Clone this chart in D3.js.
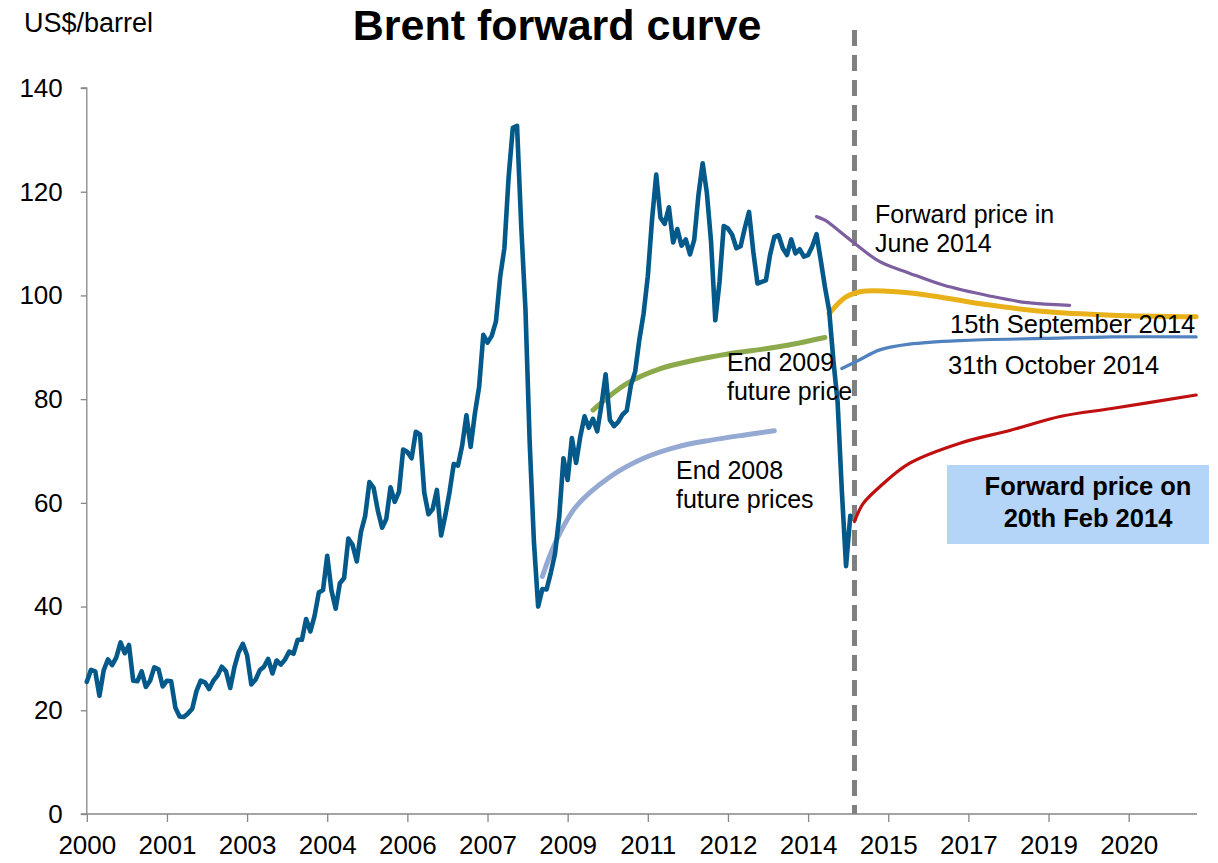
<!DOCTYPE html>
<html>
<head>
<meta charset="utf-8">
<script src="https://cdn.jsdelivr.net/npm/d3@7"></script>
<style>
  html, body { margin: 0; padding: 0; background: #fff; }
  svg { display: block; font-family: "Liberation Sans", Arial, sans-serif; }
</style>
</head>
<body>
<svg id="chart" width="1218" height="863"></svg>
<script>
// ---------------- DATA ----------------
const brentStart = "2000-01";
// Monthly Brent price, US$/barrel, Jan 2000 .. Feb 2015
const brentPrices = [
  25.5, 27.8, 27.5, 22.8, 27.7, 29.8, 28.7, 30.2, 33.1, 31.0, 32.6, 25.7,
  25.6, 27.5, 24.5, 25.7, 28.3, 27.9, 24.6, 25.7, 25.6, 20.5, 18.8, 18.7,
  19.4, 20.3, 23.7, 25.7, 25.4, 24.1, 25.7, 26.7, 28.4, 27.5, 24.3, 28.3,
  31.2, 32.8, 30.6, 25.0, 25.9, 27.7, 28.4, 29.9, 27.1, 29.6, 28.8, 29.8,
  31.3, 30.9, 33.6, 33.6, 37.6, 35.2, 38.2, 42.7, 43.2, 49.8, 43.1, 39.6,
  44.5, 45.5, 53.1, 51.9, 48.7, 54.4, 57.5, 64.0, 62.9, 58.5, 55.2, 56.9,
  63.0, 60.2, 62.1, 70.3, 69.8, 68.6, 73.7, 73.2, 62.0, 57.8, 58.8, 62.5,
  53.7, 57.6, 62.1, 67.5, 67.2, 71.1, 76.9, 70.8, 77.2, 82.3, 92.4, 90.9,
  92.2, 95.0, 103.6, 109.1, 122.8, 132.3, 132.7, 113.2, 97.2, 71.6, 52.5, 40.0,
  43.4, 43.3, 46.5, 50.2, 57.3, 68.6, 64.4, 72.5, 67.7, 72.8, 76.7, 74.5,
  76.2, 73.8, 78.8, 84.8, 76.0, 74.8, 75.6, 77.0, 77.8, 82.7, 85.3, 91.5,
  96.5, 103.7, 114.6, 123.3, 115.0, 113.8, 117.0, 110.2, 112.8, 109.6, 110.8, 107.9,
  110.7, 119.3, 125.5, 119.8, 110.3, 95.2, 102.6, 113.4, 112.9, 111.7, 109.1, 109.5,
  113.0, 116.1, 108.5, 102.3, 102.6, 102.9, 107.9, 111.3, 111.6, 109.1, 107.8, 110.8,
  108.1, 108.9, 107.5, 107.8, 109.5, 111.8, 106.8, 101.6, 97.1, 87.4, 79.4, 62.3,
  47.8, 57.5
];

// Forward curves: delivery month and price
const end2008Dates  = ["2009-01","2009-04","2009-09","2010-05","2011-01","2011-09","2012-05","2013-01","2013-08"];
const end2008Values = [45.8, 52.2, 59.3, 65.0, 68.6, 70.8, 72.1, 73.1, 73.9];

const end2009Dates  = ["2010-01","2010-09","2011-05","2012-01","2012-09","2013-09","2014-08"];
const end2009Values = [77.9, 83.0, 85.9, 87.5, 88.7, 90.1, 91.9];

const june2014Dates  = ["2014-06","2014-08","2015-02","2015-09","2016-04","2016-12","2017-11","2018-08","2019-06"];
const june2014Values = [115.2, 114.5, 110.7, 106.5, 104.3, 102.0, 99.9, 98.6, 98.1];

const sep2014Dates  = ["2014-09","2015-01","2015-05","2015-11","2016-08","2017-08","2018-12","2020-04","2021-12"];
const sep2014Values = [96.5, 99.7, 100.8, 100.8, 100.1, 98.5, 96.9, 96.2, 95.9];

const oct2014Dates  = ["2014-12","2015-04","2015-09","2016-04","2017-04","2018-12","2020-04","2021-12"];
const oct2014Values = [85.9, 87.5, 89.5, 90.6, 91.3, 91.7, 92.0, 92.0];

const feb2014Dates  = ["2015-03","2015-05","2015-09","2016-04","2017-04","2018-04","2019-04","2020-04","2021-12"];
const feb2014Values = [56.4, 59.8, 63.1, 67.6, 71.5, 74.0, 76.7, 78.2, 80.8];

const todayMarker = "2015-03";
const xTickDates  = ["2000-01","2001-08","2003-03","2004-10","2006-05","2007-12","2009-07",
                     "2011-02","2012-09","2014-04","2015-11","2017-06","2019-01","2020-08"];
const xTickLabels = ["2000","2001","2003","2004","2006","2007","2009","2011","2012","2014","2015","2017","2019","2020"];
const yTicks = [0, 20, 40, 60, 80, 100, 120, 140];

// ---------------- CHART ----------------
const svg = d3.select("#chart");
const m0 = (s => { const [y, m] = s.split("-").map(Number); return y * 12 + m - 1; })(brentStart);
const mIdx = s => { const [y, m] = s.split("-").map(Number); return y * 12 + m - 1 - m0; };

const x = d3.scaleLinear().domain([0, 263.2]).range([86.8, 1197]);
const y = d3.scaleLinear().domain([0, 140]).range([814, 88]);

const axisColor = "#868686";

// y axis
const yAxis = svg.append("g").attr("transform", `translate(${x(0)},0)`)
  .call(d3.axisLeft(y).tickValues(yTicks).tickSize(6).tickPadding(18));
yAxis.select(".domain").attr("stroke", axisColor).attr("stroke-width", 1.3).attr("d", `M-6,${y(140)}H0V${y(0)}`);
yAxis.selectAll(".tick line").attr("stroke", axisColor).attr("stroke-width", 1.3);
yAxis.selectAll(".tick text").attr("font-size", 26).attr("fill", "#000")
  .attr("font-family", "'Liberation Sans', Arial, sans-serif");

// x axis
const xAxis = svg.append("g").attr("transform", `translate(0,${y(0)})`)
  .call(d3.axisBottom(x).tickValues(xTickDates.map(mIdx))
    .tickFormat((d, i) => xTickLabels[i]).tickSize(8).tickPadding(14));
xAxis.select(".domain").attr("stroke", axisColor).attr("stroke-width", 1.3).attr("d", `M${x(0) - 6},0H${x.range()[1]}`);
xAxis.selectAll(".tick line").attr("stroke", axisColor).attr("stroke-width", 1.3);
xAxis.selectAll(".tick text").attr("font-size", 26).attr("fill", "#000")
  .attr("font-family", "'Liberation Sans', Arial, sans-serif");

// dashed "today" line
svg.append("line")
  .attr("x1", x(mIdx(todayMarker))).attr("x2", x(mIdx(todayMarker)))
  .attr("y1", 30).attr("y2", y(0))
  .attr("stroke", "#808080").attr("stroke-width", 5).attr("stroke-dasharray", "16,9");

// forward curves
const curveLine = d3.line().x(d => x(d[0])).y(d => y(d[1])).curve(d3.curveCatmullRom.alpha(0.5));
function drawCurve(dates, values, color, width) {
  svg.append("path")
    .datum(dates.map((d, i) => [mIdx(d), values[i]]))
    .attr("d", curveLine).attr("fill", "none")
    .attr("stroke", color).attr("stroke-width", width)
    .attr("stroke-linecap", "round");
}
drawCurve(end2008Dates, end2008Values, "#95AAD2", 5);
drawCurve(end2009Dates, end2009Values, "#8CAA4B", 5);
drawCurve(june2014Dates, june2014Values, "#7D5FA0", 3.2);
drawCurve(sep2014Dates, sep2014Values, "#E8B019", 5);
drawCurve(oct2014Dates, oct2014Values, "#5082BE", 3.2);
drawCurve(feb2014Dates, feb2014Values, "#BF0F0F", 3.2);

// Brent history
const histLine = d3.line().x((d, i) => x(i)).y(d => y(d));
svg.append("path").datum(brentPrices)
  .attr("d", histLine).attr("fill", "none")
  .attr("stroke", "#02598A").attr("stroke-width", 4.6)
  .attr("stroke-linejoin", "round").attr("stroke-linecap", "round");

// texts
const txt = (xx, yy, s, size, opts = {}) => svg.append("text")
  .attr("x", xx).attr("y", yy).attr("font-size", size)
  .attr("font-weight", opts.bold ? "bold" : null)
  .attr("text-anchor", opts.anchor || "start")
  .attr("fill", "#000").text(s);

txt(24, 32, "US$/barrel", 27);
txt(557, 40, "Brent forward curve", 43, { bold: true, anchor: "middle" });

txt(875, 223, "Forward price in", 25);
txt(875, 252, "June 2014", 25);
txt(950, 333, "15th September 2014", 25.5);
txt(948, 374, "31th October 2014", 25.5);
txt(727, 371, "End 2009", 25);
txt(727, 400, "future price", 25);
txt(676, 479, "End 2008", 25);
txt(676, 508, "future prices", 25);

// callout box
svg.append("rect").attr("x", 947).attr("y", 465).attr("width", 262).attr("height", 79)
  .attr("fill", "#B4D5F7");
txt(1088, 495, "Forward price on", 25.5, { bold: true, anchor: "middle" });
txt(1088, 527, "20th Feb 2014", 25.5, { bold: true, anchor: "middle" });
</script>
</body>
</html>
